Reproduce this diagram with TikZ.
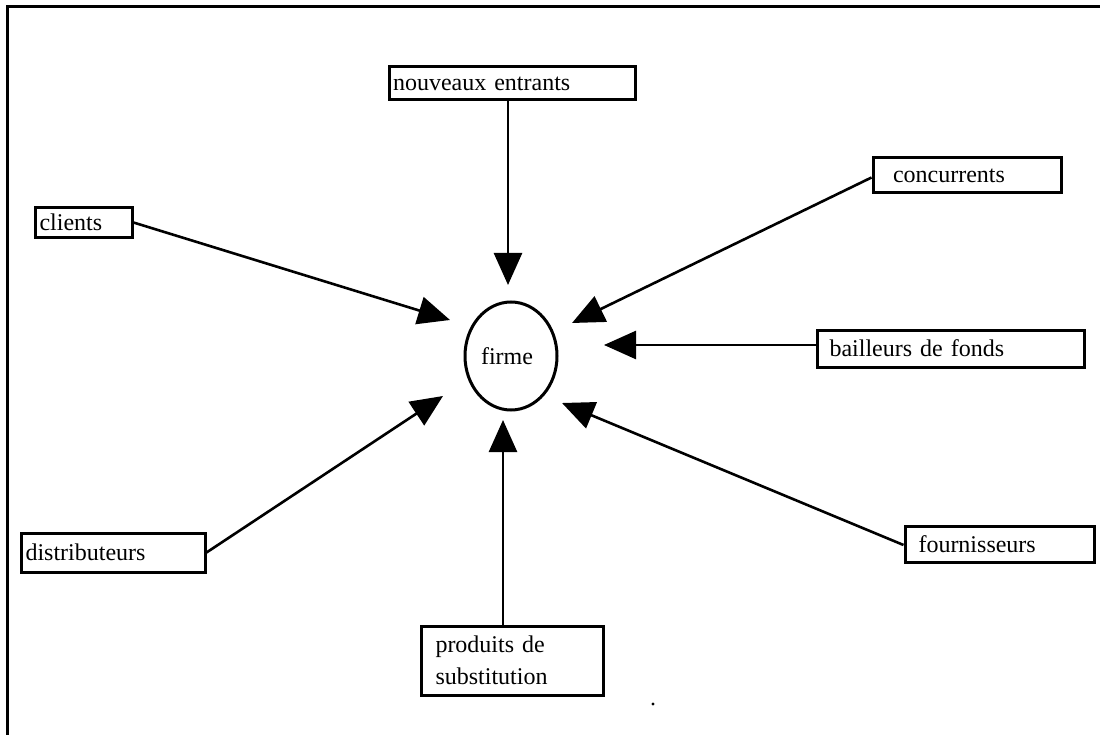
\documentclass[tikz,border=0pt]{standalone}
\usepackage{fontspec}
\setmainfont{Liberation Serif}
\usetikzlibrary{arrows.meta,shapes.geometric}
\tikzset{
  box/.style={draw, line width=3pt, inner xsep=#1, inner ysep=0pt, align=left, anchor=center, font=\fontsize{24}{32}\selectfont},
  box/.default=3pt,
  conn/.style={line width=2.6pt, -{Triangle[length=32pt,width=28pt]}},
}
\begin{document}
\begin{tikzpicture}[x=1pt,y=-1pt]
\useasboundingbox (0,0) rectangle (1100,735);
\clip (0,0) rectangle (1100,735);
\draw[line width=3pt] (7,7) rectangle (1120,760);
% boxes: center, width, height
\node[box=3pt, minimum width=246pt, minimum height=33pt, text width=238pt] (nouv) at (512,83.5) {nouveaux entrants};
\node[box=4pt, minimum width=97pt, minimum height=30pt, text width=88pt] (cli) at (83.5,222.5) {clients};
\node[box=19pt, minimum width=188pt, minimum height=35pt, text width=148pt] (conc) at (967,175.5) {concurrents};
\node[box=12pt, minimum width=267pt, minimum height=37pt, text width=242pt] (bail) at (950.5,348.5) {bailleurs de fonds};
\node[box=13pt, minimum width=189pt, minimum height=36pt, text width=162pt] (four) at (999.5,544) {fournisseurs};
\node[box=4pt, minimum width=184pt, minimum height=39pt, text width=175pt] (dist) at (113,552.5) {distributeurs};
\node[box=14pt, minimum width=182pt, minimum height=69pt, text width=153pt] (prod) at (512,660.5) {produits de\\substitution};
\node[draw, ellipse, line width=3pt, minimum width=92pt, minimum height=108pt, inner sep=0pt, font=\fontsize{24}{28}\selectfont] (firme) at (511,356) {firme\hspace*{8pt}};
% arrow tips
\coordinate (tN) at (508,285);
\coordinate (tC) at (450,320);
\coordinate (tK) at (572,323);
\coordinate (tB) at (604,345);
\coordinate (tF) at (562,403);
\coordinate (tP) at (503,420);
\coordinate (tD) at (443,396);
\coordinate (dotp) at (653,704);
\draw[conn] (nouv.south -| tN) -- (tN);
\draw[conn] (cli.east) -- (tC);
\draw[conn] ([yshift=-2pt]conc.west) -- (tK);
\draw[conn] (bail.west |- tB) -- (tB);
\draw[conn] ([yshift=-1pt]four.west) -- (tF);
\draw[conn] (dist.east) -- (tD);
\draw[conn] (prod.north -| tP) -- (tP);
\fill (dotp) circle (1.6pt);
\end{tikzpicture}
\end{document}
